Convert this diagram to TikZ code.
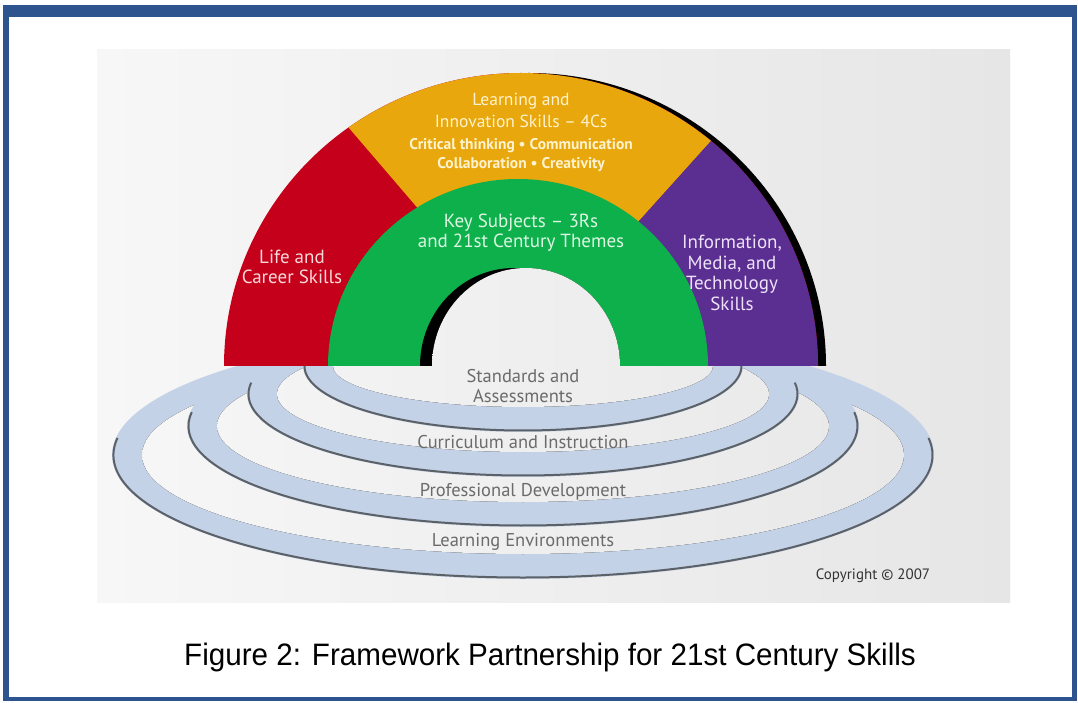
\documentclass[tikz,border=0pt]{standalone}
\usepackage{fontspec}
\setmainfont{Liberation Sans}
\newfontfamily\gill{PT Sans}
\usetikzlibrary{calc}
\definecolor{frameblue}{HTML}{2E5490}
\definecolor{pnlL}{HTML}{F7F7F7}
\definecolor{pnlR}{HTML}{E6E6E6}
\definecolor{redc}{HTML}{C4001A}
\definecolor{yelc}{HTML}{E8A70C}
\definecolor{grnc}{HTML}{0DB04B}
\definecolor{purc}{HTML}{5B2E91}
\definecolor{ringc}{HTML}{C4D2E7}
\definecolor{ringln}{HTML}{5C6168}
\definecolor{ringtxt}{HTML}{6B6B6B}
\definecolor{redtxt}{HTML}{F8DADA}
\definecolor{yeltxt}{HTML}{FFF3CF}
\definecolor{grntxt}{HTML}{DDF6E2}
\definecolor{purtxt}{HTML}{EDE2F8}
\begin{document}
\begin{tikzpicture}[x=1pt,y=1pt,
  panelshade/.style={left color=pnlL,right color=pnlR},
  archlbl/.style={font=\gill\fontsize{19}{20.5}\selectfont,align=center,inner sep=0pt},
  toplbl/.style={font=\gill\fontsize{17.5}{22}\selectfont,align=center,inner sep=0pt},
  smalllbl/.style={font=\gill\bfseries\fontsize{15.5}{19}\selectfont,align=center,inner sep=0pt},
  ringlbl/.style={font=\gill\fontsize{18.5}{20}\selectfont,align=center,inner sep=0pt,text=ringtxt},
  ringline/.style={draw=ringln,line width=2pt}]
\useasboundingbox (0,0) rectangle (1078,702);
% frame
\fill[frameblue] (3,1) rectangle (1077,697);
\fill[white] (9,5) rectangle (1072,685);
% panel
\fill[panelshade] (97,100) rectangle (1010,652);
% rings (outermost first): centre y / x radius / y radius
\foreach \cy/\rx/\ry [evaluate=\rx as \rxi using \rx-30, evaluate=\ry as \ryi using \ry-25,
                      evaluate=\rx as \rxl using \rx-1.5, evaluate=\ry as \ryl using \ry-1.5]
   in {247/411/124, 276/336/101, 308/276/83, 336/220/66} {
  \fill[ringc] (523,\cy) ellipse [x radius=\rx, y radius=\ry];
  \begin{scope}
    \clip (523,\cy) ellipse [x radius=\rxi, y radius=\ryi];
    \fill[panelshade] (97,100) rectangle (1010,652);
  \end{scope}
  \draw[ringline] (523,\cy) ++(172:{\rxl} and {\ryl})
     arc[start angle=172,end angle=368,x radius=\rxl,y radius=\ryl];
}
% arch
\coordinate (O) at (521,336);
\fill[black] (232,336) arc[start angle=180,end angle=0,x radius=297,y radius=293] -- cycle;
\fill[redc] (224,336) arc[start angle=180,end angle=0,x radius=297,y radius=293] -- cycle;
\fill[yelc] ($(O)+(125.5:297 and 293)$) arc[start angle=125.5,end angle=50.2,x radius=297,y radius=293]
   -- (612,451) -- (518,400) -- (445,462) -- cycle;
\fill[purc] ($(O)+(50.2:297 and 293)$) -- (612,451) -- (612,336) -- (818,336)
   arc[start angle=0,end angle=50.2,x radius=297,y radius=293] -- cycle;
\fill[grnc] (328,336) arc[start angle=180,end angle=0,x radius=190,y radius=187] -- cycle;
\fill[black] (420,336) arc[start angle=180,end angle=0,x radius=94,y radius=98] -- cycle;
\begin{scope}
  \clip (432,336) arc[start angle=180,end angle=0,x radius=94,y radius=98] -- cycle;
  \fill[panelshade] (97,100) rectangle (1010,652);
\end{scope}
% labels
\node[toplbl,text=yeltxt] (lis) at (521,592) {Learning and\\Innovation Skills – 4Cs};
\node[smalllbl,text=yeltxt] (fourc) at (521,546.5) {Critical thinking \textbullet\ Communication\\Collaboration \textbullet\ Creativity};
\node[archlbl,text=grntxt] (key) at (521,469.5) {Key Subjects – 3Rs\\and 21st Century Themes};
\node[archlbl,text=redtxt] (lcs) at (292,435) {Life and\\Career Skills};
\node[archlbl,text=purtxt] (imt) at (732,429) {Information,\\Media, and\\Technology\\Skills};
\node[ringlbl] (sa) at (523,316) {Standards and\\Assessments};
\node[ringlbl] (ci) at (523,260) {Curriculum and Instruction};
\node[ringlbl] (pd) at (523,210) {Professional Development};
\node[ringlbl] (le) at (523,160) {Learning Environments};
\node[font=\gill\fontsize{15}{17}\selectfont,text=black!80,inner sep=0pt] (copy) at (873,126) {Copyright \textcopyright\ 2007};
\node[font=\fontsize{31}{34}\selectfont,inner sep=0pt] (cap) at (550,45) {\scalebox{0.955}[1]{Figure 2: Framework Partnership for 21st Century Skills}};
\end{tikzpicture}
\end{document}
